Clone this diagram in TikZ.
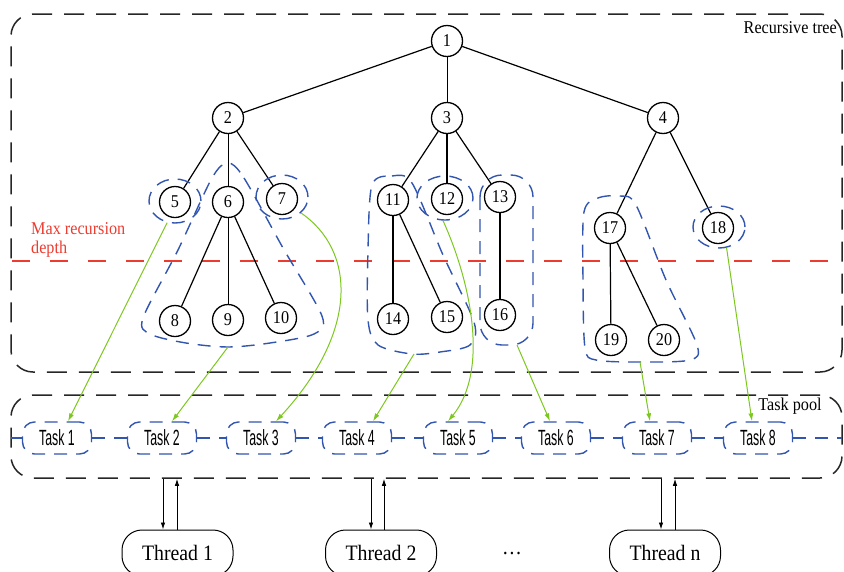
\documentclass[tikz,border=0pt]{standalone}
\usepackage{fontspec}
\setmainfont[FakeStretch=0.9]{Liberation Serif}
\newfontfamily\taskfont[FakeStretch=0.56]{Liberation Sans}
\usepackage{xcolor}
\usetikzlibrary{shapes, arrows.meta, positioning, calc}

\definecolor{grpblue}{RGB}{50,85,175}
\definecolor{depthred}{RGB}{236,60,48}
\definecolor{mapgreen}{RGB}{125,200,30}

\begin{document}
\begin{tikzpicture}[x=1pt, y=-1pt,
		vertex/.style={draw, circle, line width=1.3pt, minimum size=31pt, inner sep=0pt, font=\fontsize{18}{18}\selectfont},
		link/.style={line width=1.2pt},
		thinlink/.style={line width=0.7pt},
		areaframe/.style={draw=black!85, dash pattern=on 20pt off 12pt, line width=1.5pt, rounded corners=22pt},
		grp/.style={draw=grpblue, dash pattern=on 13pt off 9pt, line width=1.4pt},
		task/.style={grp, rounded corners=12pt, fill=white, minimum width=69pt, minimum height=32pt, inner sep=0pt, font=\taskfont\fontsize{22}{22}\selectfont},
		thread/.style={draw, line width=1pt, rounded corners=20pt, minimum width=111pt, minimum height=46pt, font=\fontsize{22}{22}\selectfont},
		taskmap/.style={draw=mapgreen, line width=1pt, -{Latex[length=8pt, width=5pt]}},
		poolarrow/.style={line width=0.9pt, -{Latex[length=7pt, width=4.5pt]}},
		boxtitle/.style={inner sep=0pt, font=\fontsize{18}{19}\selectfont}]

	\useasboundingbox (0,0) rectangle (844,571);

	% frames
	\node[areaframe, minimum width=831pt, minimum height=358pt] (tree) at (426.5,193) {};
	\node[areaframe, minimum width=831pt, minimum height=83pt] (pool) at (426.5,436.5) {};
	\node[boxtitle, anchor=east] (treetitle) at (837,28) {Recursive tree};
	\node[boxtitle] (pooltitle) at (790,406) {Task pool};

	% depth limit
	\node[boxtitle, text=depthred, align=left, anchor=north west] (depthlabel) at (31,222) {Max recursion\\depth};
	\draw[depthred, line width=2pt, dash pattern=on 18pt off 20pt] (12,261) -- (835,261);

	% tree
	\node[vertex] (n1) at (447,41) {1};
	\node[vertex] (n2) at (228,118) {2};
	\node[vertex] (n3) at (447,118) {3};
	\node[vertex] (n4) at (663,118) {4};
	\node[vertex] (n5) at (175,202) {5};
	\node[vertex] (n6) at (228,202) {6};
	\node[vertex] (n7) at (282,199) {7};
	\node[vertex] (n11) at (393,200) {11};
	\node[vertex] (n12) at (447,199) {12};
	\node[vertex] (n13) at (500,197) {13};
	\node[vertex] (n17) at (610,228) {17};
	\node[vertex] (n18) at (718,228) {18};
	\node[vertex] (n8) at (175,321) {8};
	\node[vertex] (n9) at (228,320) {9};
	\node[vertex] (n10) at (281,318) {10};
	\node[vertex] (n14) at (393,319) {14};
	\node[vertex] (n15) at (447,317) {15};
	\node[vertex] (n16) at (500,315) {16};
	\node[vertex] (n19) at (611,340) {19};
	\node[vertex] (n20) at (664,340) {20};

	\draw[link] (n1) -- (n2);
	\draw[thinlink] (n1) -- (n3);
	\draw[link] (n1) -- (n4);
	\draw[link] (n2) -- (n5);
	\draw[thinlink] (n2) -- (n6);
	\draw[link] (n2) -- (n7);
	\draw[link] (n3) -- (n11);
	\draw[link] (n3) -- (n12);
	\draw[link] (n3) -- (n13);
	\draw[link] (n4) -- (n17);
	\draw[link] (n4) -- (n18);
	\draw[link] (n6) -- (n8);
	\draw[thinlink] (n6) -- (n9);
	\draw[link] (n6) -- (n10);
	\draw[link] (n11) -- (n14);
	\draw[link] (n11) -- (n15);
	\draw[link] (n13) -- (n16);
	\draw[link] (n17) -- (n19);
	\draw[link] (n17) -- (n20);

	% subtrees cut off as tasks
	\node[grp, ellipse, minimum width=52pt, minimum height=44pt] (g5) at (175,201) {};
	\node[grp, ellipse, minimum width=52pt, minimum height=44pt] (g7) at (282,197) {};
	\node[grp, ellipse, minimum width=56pt, minimum height=44pt] (g12) at (445,198) {};
	\node[grp, ellipse, minimum width=52pt, minimum height=42pt] (g18) at (719,227) {};
	\draw[grp] plot[smooth cycle] coordinates {(228,163) (244,178) (283,248) (322,316) (314,334) (270,343) (228,347) (186,343) (150,334) (143,318) (178,250) (212,178)};
	\draw[grp] plot[smooth cycle] coordinates {(372,185) (392,176) (412,183) (443,255) (474,322) (470,345) (440,352) (412,354) (378,345) (368,320) (368,250)};
	\draw[grp, rounded corners=22pt] (480,175) rectangle (533,345);
	\draw[grp] plot[smooth cycle] coordinates {(584,212) (598,198) (620,196) (636,205) (666,280) (697,345) (690,360) (640,362) (596,360) (585,348) (583,280)};
	\coordinate (g6) at (228,347);
	\coordinate (g11) at (414,354);
	\coordinate (g13) at (517,345);
	\coordinate (g17) at (640,362);

	% task pool
	\node[task] (t1) at (57,438) {Task 1};
	\node[task] (t2) at (162,438) {Task 2};
	\node[task] (t3) at (261,438) {Task 3};
	\node[task] (t4) at (357,438) {Task 4};
	\node[task] (t5) at (458,438) {Task 5};
	\node[task] (t6) at (556,438) {Task 6};
	\node[task] (t7) at (657,438) {Task 7};
	\node[task] (t8) at (758,438) {Task 8};
	\coordinate (poolwest) at (11,438);
	\coordinate (pooleast) at (842,438);
	\draw[grp] (poolwest) -- (t1) -- (t2) -- (t3) -- (t4) -- (t5) -- (t6) -- (t7) -- (t8) -- (pooleast);

	\draw[taskmap] (g5.250) -- ([xshift=11pt]t1.north);
	\draw[taskmap] (g6) -- ([xshift=10pt]t2.north);
	\draw[taskmap] (g7.-40) .. controls (355,250) and (360,330) .. ([xshift=15pt]t3.north);
	\draw[taskmap] (g11) -- ([xshift=16pt]t4.north);
	\draw[taskmap] (g12.265) .. controls (470,280) and (490,370) .. ([xshift=-10pt]t5.north);
	\draw[taskmap] (g13) -- ([xshift=-6pt]t6.north);
	\draw[taskmap] (g17) -- ([xshift=-7pt]t7.north);
	\draw[taskmap] (g18.-70) -- ([xshift=-6pt]t8.north);

	% workers
	\node[thread] (th1) at (177.5,553) {Thread 1};
	\node[thread] (th2) at (381,553) {Thread 2};
	\node[thread] (thn) at (665,553) {Thread n};
	\node[font=\fontsize{22}{22}\selectfont, inner sep=0pt] (dots) at (512,554) {\dots};

	\draw[poolarrow] ([xshift=-14.5pt]th1.north |- pool.south) -- ([xshift=-14.5pt]th1.north);
	\draw[poolarrow] ([xshift=-0.5pt]th1.north) -- ([xshift=-0.5pt]th1.north |- pool.south);
	\draw[poolarrow] ([xshift=-10pt]th2.north |- pool.south) -- ([xshift=-10pt]th2.north);
	\draw[poolarrow] ([xshift=3pt]th2.north) -- ([xshift=3pt]th2.north |- pool.south);
	\draw[poolarrow] ([xshift=-4pt]thn.north |- pool.south) -- ([xshift=-4pt]thn.north);
	\draw[poolarrow] ([xshift=10pt]thn.north) -- ([xshift=10pt]thn.north |- pool.south);
\end{tikzpicture}
\end{document}
